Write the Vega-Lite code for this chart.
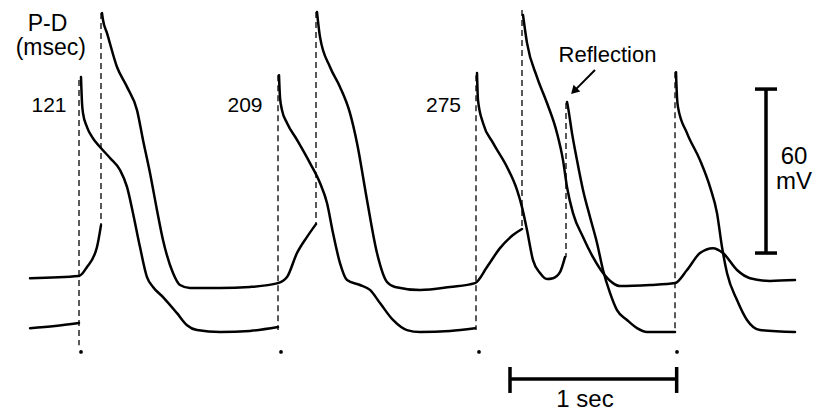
{
  "$schema": "https://vega.github.io/schema/vega-lite/v6.json",
  "width": 817,
  "height": 414,
  "padding": 0,
  "autosize": {"type": "fit", "contains": "padding"},
  "background": "white",
  "config": {"view": {"stroke": null}, "text": {"font": "Liberation Sans"}},
  "datasets": {
    "traces": [
      {"seg": "P0", "t": -300, "v": -27.5}, {"seg": "P0", "t": -150, "v": -26.7}, {"seg": "P0", "t": -6, "v": -25.6},
      {"seg": "P1", "t": 6, "v": 64.4}, {"seg": "P1", "t": 12, "v": 55.0}, {"seg": "P1", "t": 18, "v": 51.2}, {"seg": "P1", "t": 42, "v": 46.1},
      {"seg": "P1", "t": 72, "v": 42.5}, {"seg": "P1", "t": 120, "v": 38.8}, {"seg": "P1", "t": 180, "v": 34.8},
      {"seg": "P1", "t": 240, "v": 30.4}, {"seg": "P1", "t": 282, "v": 24.2}, {"seg": "P1", "t": 318, "v": 14.6},
      {"seg": "P1", "t": 360, "v": 2.2}, {"seg": "P1", "t": 402, "v": -8.8}, {"seg": "P1", "t": 438, "v": -12.4},
      {"seg": "P1", "t": 498, "v": -16.1}, {"seg": "P1", "t": 582, "v": -22.0}, {"seg": "P1", "t": 642, "v": -26.4},
      {"seg": "P1", "t": 702, "v": -28.2}, {"seg": "P1", "t": 840, "v": -28.9}, {"seg": "P1", "t": 1020, "v": -28.5},
      {"seg": "P1", "t": 1188, "v": -27.1},
      {"seg": "P2", "t": 1194, "v": 65.1}, {"seg": "P2", "t": 1200, "v": 57.0}, {"seg": "P2", "t": 1212, "v": 52.3},
      {"seg": "P2", "t": 1242, "v": 47.6}, {"seg": "P2", "t": 1302, "v": 41.4}, {"seg": "P2", "t": 1380, "v": 32.9},
      {"seg": "P2", "t": 1440, "v": 25.6}, {"seg": "P2", "t": 1482, "v": 18.3}, {"seg": "P2", "t": 1518, "v": 7.3},
      {"seg": "P2", "t": 1560, "v": -3.7}, {"seg": "P2", "t": 1602, "v": -9.9}, {"seg": "P2", "t": 1680, "v": -11.7},
      {"seg": "P2", "t": 1740, "v": -13.5}, {"seg": "P2", "t": 1800, "v": -18.3}, {"seg": "P2", "t": 1878, "v": -24.5},
      {"seg": "P2", "t": 1962, "v": -28.2}, {"seg": "P2", "t": 2040, "v": -28.9}, {"seg": "P2", "t": 2220, "v": -28.5},
      {"seg": "P2", "t": 2370, "v": -27.5},
      {"seg": "P3", "t": 2382, "v": 65.9}, {"seg": "P3", "t": 2388, "v": 56.0},
      {"seg": "P3", "t": 2418, "v": 47.6}, {"seg": "P3", "t": 2478, "v": 40.3}, {"seg": "P3", "t": 2562, "v": 31.5},
      {"seg": "P3", "t": 2622, "v": 23.1}, {"seg": "P3", "t": 2652, "v": 16.8}, {"seg": "P3", "t": 2682, "v": 8.4},
      {"seg": "P3", "t": 2718, "v": -2.6}, {"seg": "P3", "t": 2760, "v": -7.3}, {"seg": "P3", "t": 2802, "v": -9.5},
      {"seg": "P3", "t": 2838, "v": -9.2}, {"seg": "P3", "t": 2880, "v": -7.0}, {"seg": "P3", "t": 2910, "v": -1.5},
      {"seg": "P4", "t": 2922, "v": 55.3}, {"seg": "P4", "t": 2928, "v": 53.4}, {"seg": "P4", "t": 2952, "v": 43.9},
      {"seg": "P4", "t": 2982, "v": 34.0}, {"seg": "P4", "t": 3018, "v": 23.1}, {"seg": "P4", "t": 3060, "v": 13.2},
      {"seg": "P4", "t": 3102, "v": 3.7}, {"seg": "P4", "t": 3138, "v": -6.2}, {"seg": "P4", "t": 3180, "v": -14.6},
      {"seg": "P4", "t": 3222, "v": -20.9}, {"seg": "P4", "t": 3282, "v": -24.5}, {"seg": "P4", "t": 3342, "v": -27.5},
      {"seg": "P4", "t": 3402, "v": -28.9}, {"seg": "P4", "t": 3570, "v": -28.9},
      {"seg": "P5", "t": 3576, "v": 66.2}, {"seg": "P5", "t": 3582, "v": 57.0},
      {"seg": "P5", "t": 3588, "v": 53.4}, {"seg": "P5", "t": 3642, "v": 43.9}, {"seg": "P5", "t": 3720, "v": 34.0},
      {"seg": "P5", "t": 3780, "v": 24.2}, {"seg": "P5", "t": 3822, "v": 14.6}, {"seg": "P5", "t": 3852, "v": 2.2},
      {"seg": "P5", "t": 3882, "v": -7.3}, {"seg": "P5", "t": 3942, "v": -17.2}, {"seg": "P5", "t": 4002, "v": -24.5},
      {"seg": "P5", "t": 4080, "v": -28.2}, {"seg": "P5", "t": 4290, "v": -28.9},

      {"seg": "D0", "t": -300, "v": -9.2}, {"seg": "D0", "t": -6, "v": -8.4}, {"seg": "D0", "t": 42, "v": -5.1},
      {"seg": "D0", "t": 102, "v": 2.2}, {"seg": "D0", "t": 126, "v": 10.2},
      {"seg": "D1", "t": 132, "v": 87.8},
      {"seg": "D1", "t": 138, "v": 85.3}, {"seg": "D1", "t": 162, "v": 80.5}, {"seg": "D1", "t": 222, "v": 68.1},
      {"seg": "D1", "t": 282, "v": 60.8}, {"seg": "D1", "t": 342, "v": 52.3}, {"seg": "D1", "t": 378, "v": 41.4},
      {"seg": "D1", "t": 420, "v": 29.3}, {"seg": "D1", "t": 462, "v": 15.7}, {"seg": "D1", "t": 498, "v": 4.8},
      {"seg": "D1", "t": 558, "v": -7.3}, {"seg": "D1", "t": 600, "v": -11.7}, {"seg": "D1", "t": 660, "v": -12.8},
      {"seg": "D1", "t": 840, "v": -12.8}, {"seg": "D1", "t": 1020, "v": -12.4}, {"seg": "D1", "t": 1188, "v": -11.0},
      {"seg": "D1", "t": 1242, "v": -8.8}, {"seg": "D1", "t": 1302, "v": 0}, {"seg": "D1", "t": 1362, "v": 5.9},
      {"seg": "D1", "t": 1416, "v": 10.6},
      {"seg": "D2", "t": 1422, "v": 88.2}, {"seg": "D2", "t": 1440, "v": 79.1},
      {"seg": "D2", "t": 1500, "v": 68.1}, {"seg": "D2", "t": 1560, "v": 60.8}, {"seg": "D2", "t": 1620, "v": 51.2},
      {"seg": "D2", "t": 1662, "v": 40.3}, {"seg": "D2", "t": 1722, "v": 19.4}, {"seg": "D2", "t": 1782, "v": 0},
      {"seg": "D2", "t": 1842, "v": -10.6}, {"seg": "D2", "t": 1890, "v": -12.4}, {"seg": "D2", "t": 2040, "v": -13.5},
      {"seg": "D2", "t": 2220, "v": -12.4}, {"seg": "D2", "t": 2370, "v": -11.0}, {"seg": "D2", "t": 2442, "v": -5.1},
      {"seg": "D2", "t": 2520, "v": 1.8}, {"seg": "D2", "t": 2598, "v": 6.6}, {"seg": "D2", "t": 2652, "v": 8.8},
      {"seg": "D3", "t": 2658, "v": 87.1}, {"seg": "D3", "t": 2682, "v": 76.9}, {"seg": "D3", "t": 2742, "v": 64.4},
      {"seg": "D3", "t": 2802, "v": 54.9}, {"seg": "D3", "t": 2862, "v": 43.9}, {"seg": "D3", "t": 2898, "v": 34.0},
      {"seg": "D3", "t": 2922, "v": 24.2}, {"seg": "D3", "t": 2958, "v": 14.6}, {"seg": "D3", "t": 3018, "v": 5.9},
      {"seg": "D3", "t": 3078, "v": -1.5}, {"seg": "D3", "t": 3138, "v": -7.3}, {"seg": "D3", "t": 3198, "v": -11.0},
      {"seg": "D3", "t": 3240, "v": -12.1}, {"seg": "D3", "t": 3420, "v": -11.7}, {"seg": "D3", "t": 3570, "v": -11.0},
      {"seg": "D3", "t": 3642, "v": -6.2}, {"seg": "D3", "t": 3720, "v": 0}, {"seg": "D3", "t": 3798, "v": 1.8},
      {"seg": "D3", "t": 3858, "v": 0}, {"seg": "D3", "t": 3942, "v": -6.2}, {"seg": "D3", "t": 4020, "v": -9.2},
      {"seg": "D3", "t": 4140, "v": -10.2}, {"seg": "D3", "t": 4290, "v": -9.9}
    ],
    "dashes": [
      {"t": -6, "v1": 63.3, "v2": -33.7},
      {"t": 126, "v1": 87.8, "v2": 9.5},
      {"t": 1188, "v1": 65.1, "v2": -28.2},
      {"t": 1416, "v1": 88.2, "v2": 11.0},
      {"t": 2376, "v1": 65.1, "v2": -28.2},
      {"t": 2652, "v1": 88.9, "v2": 8.4},
      {"t": 2916, "v1": 54.9, "v2": -1.5},
      {"t": 3570, "v1": 66.2, "v2": -28.9}
    ],
    "stimuli": [
      {"t": 6, "v": -36.2}, {"t": 1206, "v": -36.2}, {"t": 2394, "v": -36.2}, {"t": 3582, "v": -36.2}
    ],
    "bars": [
      {"part": "60 mV bar", "t": 4116, "t2": 4116, "v": 0, "v2": 60},
      {"part": "60 mV cap", "t": 4050, "t2": 4182, "v": 0, "v2": 0},
      {"part": "60 mV cap", "t": 4050, "t2": 4182, "v": 60, "v2": 60},
      {"part": "1 sec bar", "t": 2580, "t2": 3580, "v": -46.1, "v2": -46.1},
      {"part": "1 sec cap", "t": 2580, "t2": 2580, "v": -41.7, "v2": -51.2},
      {"part": "1 sec cap", "t": 3580, "t2": 3580, "v": -41.7, "v2": -51.2}
    ],
    "arrow": [
      {"t": 3090, "t2": 2976, "v": 67.0, "v2": 60.0}
    ],
    "arrowhead": [
      {"t": 2964, "v": 59.3}
    ],
    "labels": [
      {"text": "P-D", "role": "header", "t": -195, "v": 84.0},
      {"text": "(msec)", "role": "header", "t": -175, "v": 75.0},
      {"text": "121", "role": "value", "t": -186, "v": 53.9},
      {"text": "209", "role": "value", "t": 990, "v": 53.9},
      {"text": "275", "role": "value", "t": 2181, "v": 53.9},
      {"text": "Reflection", "role": "note", "t": 3165, "v": 72.5},
      {"text": "60", "role": "scale", "t": 4284, "v": 35.1},
      {"text": "mV", "role": "scale", "t": 4284, "v": 26.0},
      {"text": "1 sec", "role": "scale", "t": 3030, "v": -53.8}
    ]
  },
  "encoding": {
    "x": {"type": "quantitative", "scale": {"domain": [-480, 4422], "nice": false, "zero": false}, "axis": null},
    "y": {"type": "quantitative", "scale": {"domain": [-58.9, 92.6], "nice": false, "zero": false}, "axis": null}
  },
  "layer": [
    {
      "data": {"name": "dashes"},
      "mark": {"type": "rule", "color": "black", "strokeWidth": 1.3, "strokeDash": [6, 4]},
      "encoding": {"x": {"field": "t", "type": "quantitative"}, "y": {"field": "v1", "type": "quantitative"}, "y2": {"field": "v2"}}
    },
    {
      "data": {"name": "traces"},
      "mark": {"type": "line", "color": "black", "strokeWidth": 2.5, "interpolate": "monotone", "strokeJoin": "round", "strokeCap": "round"},
      "encoding": {"x": {"field": "t", "type": "quantitative"}, "y": {"field": "v", "type": "quantitative"}, "detail": {"field": "seg"}}
    },
    {
      "data": {"name": "stimuli"},
      "mark": {"type": "point", "filled": true, "color": "black", "size": 14, "opacity": 1},
      "encoding": {"x": {"field": "t", "type": "quantitative"}, "y": {"field": "v", "type": "quantitative"}}
    },
    {
      "data": {"name": "bars"},
      "mark": {"type": "rule", "color": "black", "strokeWidth": 3.5},
      "encoding": {"x": {"field": "t", "type": "quantitative"}, "x2": {"field": "t2"}, "y": {"field": "v", "type": "quantitative"}, "y2": {"field": "v2"}}
    },
    {
      "data": {"name": "arrow"},
      "mark": {"type": "rule", "color": "black", "strokeWidth": 2},
      "encoding": {"x": {"field": "t", "type": "quantitative"}, "x2": {"field": "t2"}, "y": {"field": "v", "type": "quantitative"}, "y2": {"field": "v2"}}
    },
    {
      "data": {"name": "arrowhead"},
      "mark": {"type": "point", "shape": "triangle-up", "filled": true, "color": "black", "size": 90, "angle": 225, "opacity": 1},
      "encoding": {"x": {"field": "t", "type": "quantitative"}, "y": {"field": "v", "type": "quantitative"}}
    },
    {
      "data": {"name": "labels"},
      "mark": {"type": "text", "color": "black", "align": "center", "baseline": "middle"},
      "encoding": {
        "x": {"field": "t", "type": "quantitative"},
        "y": {"field": "v", "type": "quantitative"},
        "text": {"field": "text"},
        "size": {"field": "role", "type": "nominal", "legend": null, "scale": {"type": "ordinal", "domain": ["header", "value", "note", "scale"], "range": [23, 21, 22, 24]}}
      }
    }
  ]
}
